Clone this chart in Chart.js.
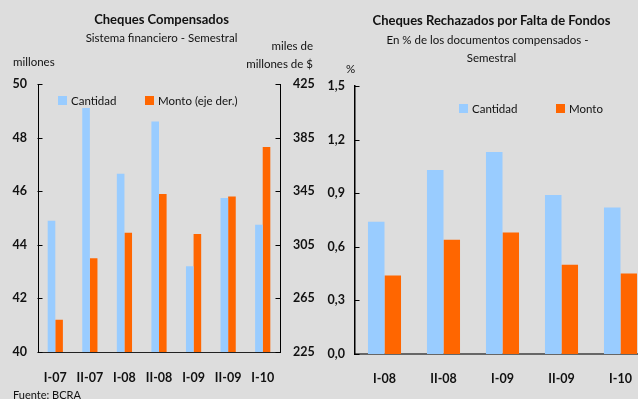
<!DOCTYPE html>
<html>
<head>
<meta charset="utf-8">
<script src="https://cdn.jsdelivr.net/npm/chart.js@4/dist/chart.umd.min.js"></script>
<style>
  html, body { margin: 0; padding: 0; }
  body { width: 638px; height: 399px; background: #dddddd; overflow: hidden; position: relative;
         font-family: Lato, "Open Sans", sans-serif; color: #111; }
  .t { position: absolute; white-space: nowrap; line-height: 1; }
  .title { font-weight: bold; font-size: 13px; }
  .sub { font-size: 11.5px; }
  .unit { font-size: 11.5px; }
  .leg { font-size: 11.5px; display: flex; align-items: center; }
  .sw { display: inline-block; width: 9px; height: 9px; margin-right: 4px; }
  #cLeft { position: absolute; left: 0; top: 0; }
  #cRight { position: absolute; left: 320px; top: 0; }
</style>
</head>
<body>
<canvas id="cLeft" width="320" height="399"></canvas>
<canvas id="cRight" width="345" height="399"></canvas>

<div class="t title" style="left:0;width:323px;text-align:center;top:13px;">Cheques Compensados</div>
<div class="t sub" style="left:0;width:323px;text-align:center;top:32px;">Sistema financiero - Semestral</div>
<div class="t unit" style="left:13px;top:56px;">millones</div>
<div class="t unit" style="right:325px;top:40px;">miles de</div>
<div class="t unit" style="right:325px;top:58px;">millones de $</div>
<div class="t leg" style="left:58px;top:95px;"><span class="sw" style="background:#99ccff"></span>Cantidad</div>
<div class="t leg" style="left:145px;top:95px;"><span class="sw" style="background:#ff6600"></span>Monto (eje der.)</div>
<div class="t unit" style="left:13px;top:389px;font-size:11px;">Fuente: BCRA</div>

<div class="t title" style="left:330px;width:323px;text-align:center;top:14px;">Cheques Rechazados por Falta de Fondos</div>
<div class="t sub" style="left:330px;width:315px;text-align:center;top:34px;">En % de los documentos compensados -</div>
<div class="t sub" style="left:330px;width:323px;text-align:center;top:52px;">Semestral</div>
<div class="t unit" style="left:346px;top:63px;">%</div>
<div class="t leg" style="left:459px;top:103px;"><span class="sw" style="background:#99ccff"></span>Cantidad</div>
<div class="t leg" style="left:556px;top:103px;"><span class="sw" style="background:#ff6600"></span>Monto</div>

<script>
// Cheques compensados (semestral)
const compCategories = ['I-07', 'II-07', 'I-08', 'II-08', 'I-09', 'II-09', 'I-10'];
const compCantidad = [44.9, 49.1, 46.65, 48.6, 43.2, 45.75, 44.75];   // millones
const compMonto = [249, 295, 314, 343, 313, 341, 378];                // miles de millones de $
const compLeftTicks = [40, 42, 44, 46, 48, 50];
const compRightTicks = [225, 265, 305, 345, 385, 425];

// Cheques rechazados por falta de fondos (% de los compensados)
const rechCategories = ['I-08', 'II-08', 'I-09', 'II-09', 'I-10'];
const rechCantidad = [0.74, 1.03, 1.13, 0.89, 0.82];
const rechMonto = [0.44, 0.64, 0.68, 0.50, 0.45];
const rechTicks = [0, 0.3, 0.6, 0.9, 1.2, 1.5];

const BLUE = '#99ccff';
const ORANGE = '#ff6600';
const tickFont = { family: 'Lato', size: 12.5, weight: 'bold' };

// Short tick marks pointing into the plot area on value axes
const innerTicks = {
  id: 'innerTicks',
  afterDraw(chart) {
    const ctx = chart.ctx;
    ctx.save();
    ctx.strokeStyle = '#000';
    ctx.lineWidth = 1;
    Object.values(chart.scales).forEach(scale => {
      if (scale.axis !== 'y') return;
      const right = scale.position === 'right';
      const x = right ? scale.left + 0.5 : scale.right - 0.5;
      const dir = right ? -1 : 1;
      scale.ticks.forEach(t => {
        const y = Math.round(scale.getPixelForValue(t.value)) + 0.5;
        ctx.beginPath();
        ctx.moveTo(x, y);
        ctx.lineTo(x + dir * 5, y);
        ctx.stroke();
      });
    });
    ctx.restore();
  }
};

function fixedTicks(values) {
  return function (scale) {
    scale.ticks = values.map(v => ({ value: v }));
  };
}

new Chart(document.getElementById('cLeft'), {
  type: 'bar',
  data: {
    labels: compCategories,
    datasets: [
      { label: 'Cantidad', data: compCantidad, backgroundColor: BLUE, yAxisID: 'y' },
      { label: 'Monto (eje der.)', data: compMonto, backgroundColor: ORANGE, yAxisID: 'y1' }
    ]
  },
  options: {
    responsive: false,
    animation: false,
    events: [],
    layout: { padding: { top: 84 } },
    datasets: { bar: { categoryPercentage: 0.44, barPercentage: 1.0 } },
    plugins: { legend: { display: false }, tooltip: { enabled: false } },
    scales: {
      x: {
        grid: { display: false, drawTicks: false },
        border: { display: true, color: '#222', width: 1 },
        ticks: { color: '#111', font: tickFont, padding: 18 },
        afterFit(s) { s.height = 399 - 352; }
      },
      y: {
        position: 'left',
        min: 40, max: 50,
        afterBuildTicks: fixedTicks(compLeftTicks),
        grid: { display: false, drawTicks: false },
        border: { display: true, color: '#000', width: 1 },
        ticks: { color: '#111', font: tickFont, padding: 11 },
        afterFit(s) { s.width = 38; }
      },
      y1: {
        position: 'right',
        min: 225, max: 425,
        afterBuildTicks: fixedTicks(compRightTicks),
        grid: { display: false, drawTicks: false },
        border: { display: true, color: '#000', width: 1 },
        ticks: { color: '#111', font: tickFont, padding: 13 },
        afterFit(s) { s.width = 320 - 280; }
      }
    }
  },
  plugins: [innerTicks]
});

new Chart(document.getElementById('cRight'), {
  type: 'bar',
  data: {
    labels: rechCategories,
    datasets: [
      { label: 'Cantidad', data: rechCantidad, backgroundColor: BLUE },
      { label: 'Monto', data: rechMonto, backgroundColor: ORANGE }
    ]
  },
  options: {
    responsive: false,
    animation: false,
    events: [],
    layout: { padding: { top: 86, right: 345 - (650 - 320) } },
    datasets: { bar: { categoryPercentage: 0.56, barPercentage: 1.0 } },
    plugins: { legend: { display: false }, tooltip: { enabled: false } },
    scales: {
      x: {
        grid: { display: false, drawTicks: false },
        border: { display: true, color: '#666', width: 2 },
        ticks: { color: '#111', font: tickFont, padding: 17 },
        afterFit(s) { s.height = 399 - 354; }
      },
      y: {
        min: 0, max: 1.5,
        afterBuildTicks: fixedTicks(rechTicks),
        grid: { display: false, drawTicks: false },
        border: { display: true, color: '#000', width: 1.5 },
        ticks: {
          color: '#111', font: tickFont, padding: 10,
          callback: v => Number(v).toFixed(1).replace('.', ',')
        },
        afterFit(s) { s.width = 355 - 320; }
      }
    }
  },
  plugins: [innerTicks]
});
</script>
</body>
</html>
